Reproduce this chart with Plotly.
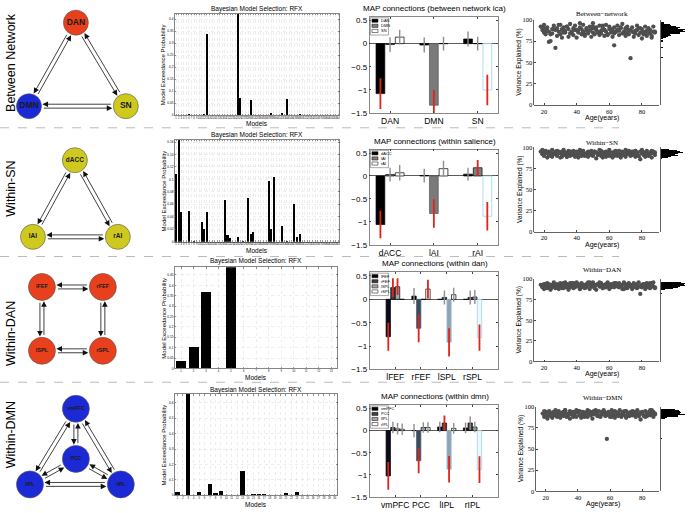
import math
import plotly.graph_objects as go

W, H = 688, 513
SANS = "Liberation Sans, Arial, sans-serif"
SERIF = "Liberation Serif, Times New Roman, serif"

# ======================= DATA =======================
row_labels = ["Between Network", "Within-SN", "Within-DAN", "Within-DMN"]

# --- network diagrams (node layout in diagram units) ---
net_names = [["DAN", "DMN", "SN"], ["dACC", "lAI", "rAI"],
             ["lFEF", "rFEF", "lSPL", "rSPL"], ["vmPFC", "PCC", "lIPL", "rIPL"]]
net_x = [[76, 29, 126], [75, 33, 118], [42, 103, 42, 103], [76, 76, 30, 121]]
net_y = [[19, 104, 104], [159, 237, 237], [288, 288, 353, 353], [412, 463, 489, 489]]
net_fill = [["#e8401c", "#1c2ad6", "#cfc91f"], ["#cfc91f"] * 3,
            ["#e8401c"] * 4, ["#1c2ad6"] * 4]
net_edges = [[(0, 1), (0, 2), (1, 2)], [(0, 1), (0, 2), (1, 2)],
             [(0, 1), (0, 2), (1, 3), (2, 3)],
             [(0, 1), (0, 2), (0, 3), (1, 2), (1, 3), (2, 3)]]

# --- Bayesian model selection: exceedance probabilities ---
bms1_prob = [0, 0, 0, 0, 0, 0.004, 0, 0, 0, 0,
             0, 0.006, 0.338, 0, 0, 0, 0, 0, 0, 0,
             0, 0, 0, 0, 0.423, 0.070, 0, 0, 0, 0.061,
             0, 0, 0, 0, 0, 0, 0, 0.009, 0, 0,
             0, 0.009, 0, 0.068, 0, 0, 0, 0, 0.003, 0,
             0, 0, 0, 0, 0, 0, 0, 0, 0, 0,
             0, 0, 0, 0]
bms2_prob = [0.109, 0.164, 0.048, 0, 0, 0.050, 0, 0.002, 0, 0,
             0.031, 0.021, 0.047, 0, 0, 0, 0, 0, 0, 0.067,
             0.011, 0.006, 0, 0, 0.008, 0, 0.001, 0, 0.071, 0.013,
             0.015, 0, 0, 0, 0, 0, 0.098, 0.020, 0.104, 0,
             0, 0.026, 0, 0.001, 0, 0, 0.060, 0.008, 0.013, 0,
             0, 0, 0, 0, 0, 0, 0, 0, 0, 0,
             0, 0, 0, 0]
bms3_prob = [0.037, 0.103, 0.370, 0, 0.487, 0, 0, 0.003, 0, 0, 0, 0, 0]
bms4_prob = [0.021, 0, 0.658, 0, 0.021, 0, 0.071, 0.012, 0.029, 0,
             0, 0, 0.156, 0, 0.008, 0.006, 0.010, 0, 0, 0,
             0.012, 0, 0.023, 0, 0.004, 0, 0, 0, 0, 0]
bms_probs = [bms1_prob, bms2_prob, bms3_prob, bms4_prob]
bms_yticks = [[0, 0.05, 0.1, 0.15, 0.2, 0.25, 0.3, 0.35, 0.4],
              [0, 0.02, 0.04, 0.06, 0.08, 0.1, 0.12, 0.14, 0.16],
              [0, 0.05, 0.1, 0.15, 0.2, 0.25, 0.3, 0.35, 0.4, 0.45],
              [0, 0.1, 0.2, 0.3, 0.4, 0.5, 0.6]]

# --- MAP connections: rows = target group, cols = source series ---
map_titles = ["MAP connections (between network ica)", "MAP connections (within salience)",
              "MAP connections (within dan)", "MAP connections (within dmn)"]
map_groups = [["DAN", "DMN", "SN"], ["dACC", "lAI", "rAI"],
              ["lFEF", "rFEF", "lSPL", "rSPL"], ["vmPFC", "PCC", "lIPL", "rIPL"]]
map1_vals = [[-1.08, -0.02, 0.14], [-0.03, -1.33, 0.00], [0.10, 0.00, -1.00]]
map1_errs = [[0.33, 0.16, 0.16], [0.16, 0.33, 0.15], [0.16, 0.15, 0.33]]
map2_vals = [[-1.06, 0.03, 0.07], [0.01, -0.82, 0.16], [0.04, 0.18, -0.88]]
map2_errs = [[0.30, 0.15, 0.17], [0.15, 0.31, 0.17], [0.14, 0.17, 0.31]]
map3_vals = [[-0.80, 0.25, 0.27, 0.00], [0.07, -0.62, 0.00, 0.22],
             [0.00, 0.04, -0.92, 0.10], [0.00, 0.04, 0.05, -0.82]]
map3_errs = [[0.30, 0.20, 0.18, 0.00], [0.17, 0.30, 0.00, 0.20],
             [0.00, 0.15, 0.30, 0.15], [0.00, 0.15, 0.15, 0.28]]
map4_vals = [[-1.02, 0.07, 0.04, 0.03], [0.00, -0.68, 0.07, 0.07],
             [0.08, 0.17, -0.87, 0.05], [0.06, 0.17, 0.08, -0.88]]
map4_errs = [[0.31, 0.13, 0.13, 0.13], [0.15, 0.28, 0.12, 0.12],
             [0.12, 0.17, 0.30, 0.12], [0.12, 0.15, 0.12, 0.30]]
map_vals = [map1_vals, map2_vals, map3_vals, map4_vals]
map_errs = [map1_errs, map2_errs, map3_errs, map4_errs]
# significant off-diagonal connections (group, series) -> red error bars
map_sig_extra = [[], [(2, 1)], [(0, 1), (0, 2), (1, 3)], [(2, 1)]]

# --- variance explained vs age (same participants in every row) ---
ages = [18, 19, 20, 20, 21, 22, 22, 23, 23, 24, 25, 25, 26, 27, 27,
        28, 28, 29, 30, 30, 31, 31, 32, 33, 33, 34, 35, 35, 36, 36,
        37, 38, 38, 39, 39, 40, 41, 41, 42, 43, 43, 44, 44, 45, 46,
        46, 47, 47, 48, 49, 49, 50, 50, 51, 52, 52, 53, 54, 54, 55,
        55, 56, 57, 57, 58, 58, 59, 60, 60, 61, 62, 62, 63, 63, 64,
        65, 65, 66, 66, 67, 68, 68, 69, 70, 70, 71, 71, 72, 73, 73,
        74, 74, 75, 76, 76, 77, 77, 78, 79, 79, 80, 80, 81, 82, 82,
        83, 83, 84, 85, 85, 86, 87, 87, 88, 19, 21, 24, 26, 29, 32,
        34, 37, 40, 42, 45, 48, 51, 53, 56, 59, 61, 64, 67, 69, 72,
        75, 78, 81, 84, 86, 20, 31, 44, 50, 57, 63, 70, 76, 83, 88]
var_between = [92, 88, 85, 90, 83, 87, 91, 74, 86, 75, 89, 84, 93, 67, 88,
               81, 90, 86, 94, 83, 88, 79, 91, 85, 87, 92, 80, 89, 84, 95,
               86, 82, 90, 88, 93, 79, 87, 85, 91, 83, 89, 86, 94, 81, 88,
               90, 84, 87, 92, 80, 89, 85, 96, 83, 88, 91, 86, 82, 93, 87,
               84, 90, 81, 88, 94, 86, 83, 89, 92, 85, 80, 87, 70, 91, 86,
               88, 93, 82, 87, 90, 84, 95, 86, 81, 89, 85, 92, 83, 55, 88,
               86, 91, 80, 87, 84, 93, 88, 82, 90, 85, 78, 89, 86, 92, 83,
               87, 81, 90, 84, 88, 79, 86, 92, 85, 91, 87, 83, 89, 94, 85,
               92, 84, 88, 96, 83, 87, 90, 85, 93, 82, 89, 86, 91, 84, 88,
               85, 90, 83, 87, 81, 94, 89, 86, 92, 88, 84, 90, 87, 83, 86]
var_sn = [95, 92, 94, 90, 96, 93, 88, 95, 91, 94, 97, 89, 93, 95, 92,
          90, 96, 93, 94, 88, 95, 92, 97, 91, 94, 89, 96, 93, 90, 95,
          94, 91, 96, 89, 93, 95, 92, 88, 97, 93, 90, 94, 96, 91, 93,
          92, 95, 89, 94, 96, 91, 93, 90, 95, 87, 94, 92, 97, 93, 90,
          96, 93, 91, 94, 89, 95, 92, 97, 90, 94, 93, 88, 95, 91, 93,
          94, 90, 96, 92, 88, 95, 93, 91, 97, 89, 94, 92, 96, 90, 93,
          91, 95, 93, 89, 96, 92, 94, 90, 95, 86, 93, 97, 91, 94, 89,
          93, 96, 90, 94, 92, 88, 95, 93, 91, 97, 94, 90, 92, 95, 93,
          89, 94, 92, 96, 90, 93, 95, 91, 88, 94, 92, 96, 90, 93, 95,
          92, 90, 94, 91, 96, 93, 89, 95, 92, 94, 90, 93, 96, 91, 94]
var_dan = [93, 90, 94, 88, 92, 95, 89, 91, 94, 87, 93, 90, 96, 92, 89,
           94, 91, 88, 95, 92, 90, 93, 89, 96, 91, 94, 87, 92, 95, 90,
           92, 95, 89, 93, 90, 96, 91, 94, 88, 92, 95, 90, 93, 89, 94,
           90, 93, 96, 88, 94, 91, 92, 95, 89, 93, 87, 94, 91, 96, 92,
           95, 89, 93, 91, 94, 90, 96, 92, 88, 94, 91, 93, 95, 90, 92,
           91, 94, 90, 95, 92, 88, 93, 96, 90, 94, 89, 92, 95, 91, 93,
           88, 93, 95, 90, 92, 94, 89, 96, 91, 82, 93, 90, 94, 88, 92,
           94, 90, 92, 95, 89, 93, 91, 96, 90, 92, 94, 89, 93, 91, 95,
           90, 95, 93, 88, 92, 96, 91, 94, 89, 93, 90, 95, 92, 88, 94,
           93, 91, 94, 90, 95, 92, 89, 93, 96, 91, 94, 90, 92, 95, 89]
var_dmn = [92, 88, 94, 90, 86, 93, 95, 89, 91, 87, 94, 90, 96, 92, 88,
           90, 95, 87, 93, 91, 89, 94, 96, 88, 92, 90, 95, 86, 93, 91,
           94, 89, 92, 96, 88, 93, 90, 95, 87, 91, 94, 89, 93, 90, 96,
           88, 92, 95, 90, 94, 86, 93, 91, 96, 89, 92, 95, 90, 88, 94,
           91, 95, 89, 93, 90, 62, 94, 88, 92, 96, 90, 93, 87, 95, 91,
           93, 89, 96, 91, 88, 94, 92, 90, 95, 87, 93, 91, 89, 94, 90,
           95, 90, 92, 88, 94, 91, 96, 89, 93, 85, 92, 94, 90, 88, 95,
           89, 93, 91, 96, 90, 92, 88, 94, 91, 95, 89, 93, 90, 92, 96,
           92, 88, 95, 90, 93, 91, 94, 89, 96, 92, 88, 93, 91, 95, 90,
           94, 91, 89, 93, 96, 90, 92, 88, 95, 91, 93, 89, 94, 90, 92]
var_series = [var_between, var_sn, var_dan, var_dmn]
scatter_titles = ["Between\u2212network", "Within\u2212SN", "Within\u2212DAN", "Within\u2212DMN"]

# ======================= LAYOUT BOXES (pixels) =======================
bms_box = [(175, 340, 10, 113), (175, 340, 138, 242), (175, 338, 268, 371), (175, 338, 397, 500)]
bms_title_y = [5, 133, 262, 393]
bms_models_y = [122, 251, 380, 509]
map_box = [(370, 499, 13, 111), (370, 499, 148, 245), (370, 499, 273, 372), (370, 499, 408, 502)]
map_title_y = [5, 140, 264, 399]
sc_box = [(535, 660, 16, 103), (535, 660, 146, 232), (535, 660, 280, 364), (537, 660, 410, 496)]
sc_title_y = [10, 141, 271, 401]
row_label_y = [59, 188, 335, 438]
sep_y = [126, 257, 385]

fig = go.Figure()
layout = dict(width=W, height=H, margin=dict(l=0, r=0, t=0, b=0),
              paper_bgcolor="white", plot_bgcolor="white", showlegend=False,
              font=dict(family=SANS, size=8, color="black"),
              barmode="overlay", bargap=0)
annotations = []
shapes = []


def names(n):
    s = "" if n == 1 else str(n)
    return "xaxis" + s, "yaxis" + s, "x" + s, "y" + s


def xd(a, b):
    return [a / W, b / W]


def yd(top, bot):
    return [1 - bot / H, 1 - top / H]


def txt(s, x, y, size, family=SANS, angle=0, color="black", xanchor="center"):
    annotations.append(dict(text=s, x=x / W, y=1 - y / H, xref="paper", yref="paper",
                            showarrow=False, textangle=angle, xanchor=xanchor, yanchor="middle",
                            font=dict(size=size, family=family, color=color)))


# ---------- column 1: network diagrams ----------
xa, ya, xr, yr = names(1)
layout[xa] = dict(domain=xd(0, 150), range=[0, 150], visible=False, fixedrange=True)
layout[ya] = dict(domain=[0, 1], range=[H, 0], visible=False, fixedrange=True)
node_size = [25, 25, 27, 27]
node_font = [8.5, 6.5, 5.5, 5]
for r in range(4):
    xs, ys = net_x[r], net_y[r]
    rad = node_size[r] / 2
    for (i, j) in net_edges[r]:
        for (a, b) in ((i, j), (j, i)):
            dx, dy = xs[b] - xs[a], ys[b] - ys[a]
            L = math.hypot(dx, dy)
            ux, uy = dx / L, dy / L
            px_, py_ = -uy, ux
            off = 2.0
            sx = xs[a] + ux * (rad + 1) + px_ * off
            sy = ys[a] + uy * (rad + 1) + py_ * off
            ex = xs[b] - ux * (rad + 1) + px_ * off
            ey = ys[b] - uy * (rad + 1) + py_ * off
            annotations.append(dict(x=ex, y=ey, ax=sx, ay=sy, xref=xr, yref=yr,
                                    axref=xr, ayref=yr, showarrow=True, text="",
                                    arrowhead=2, arrowsize=1.4, arrowwidth=0.8,
                                    arrowcolor="#111111", standoff=0, startstandoff=0))
    fig.add_trace(go.Scatter(
        x=xs, y=ys, mode="markers+text", text=["<b>%s</b>" % t for t in net_names[r]],
        textposition="middle center",
        textfont=dict(size=node_font[r], color="#1a1a1a", family=SANS),
        marker=dict(size=node_size[r], color=net_fill[r], line=dict(color="#555555", width=0.6)),
        xaxis=xr, yaxis=yr, hoverinfo="skip"))
    txt(row_labels[r], 11, row_label_y[r], 12.5, angle=-90)

# ---------- column 2: BMS bar charts ----------
for r in range(4):
    n = 2 + r
    xa, ya, xr, yr = names(n)
    x0, x1, t, b = bms_box[r]
    probs = bms_probs[r]
    models = list(range(1, len(probs) + 1))
    layout[xa] = dict(domain=xd(x0, x1), anchor=yr, range=[0.5, len(models) + 0.5],
                      tickvals=models, ticktext=[str(m) for m in models],
                      tickfont=dict(size=2.6), tickangle=0,
                      ticks="inside", ticklen=1.5, tickwidth=0.5, tickcolor="#333",
                      showline=True, linecolor="#333", linewidth=0.6, mirror="ticks",
                      showgrid=True, gridcolor="#dcdcdc", griddash="dot", gridwidth=0.5,
                      zeroline=False, fixedrange=True)
    layout[ya] = dict(domain=yd(t, b), anchor=xr, range=[0, max(probs)],
                      tickvals=bms_yticks[r], tickfont=dict(size=3.2),
                      ticks="inside", ticklen=1.5, tickwidth=0.5, tickcolor="#333",
                      showline=True, linecolor="#333", linewidth=0.6, mirror="ticks",
                      showgrid=True, gridcolor="#dcdcdc", griddash="dot", gridwidth=0.5,
                      zeroline=False, fixedrange=True)
    fig.add_trace(go.Bar(x=models, y=probs, width=0.8, marker=dict(color="black", line=dict(width=0)),
                         xaxis=xr, yaxis=yr, hoverinfo="skip"))
    txt("Bayesian Model Selection: RFX", (x0 + x1) / 2, bms_title_y[r], 6.5)
    txt("Models", (x0 + x1) / 2, bms_models_y[r], 6.5)
    txt("Model Exceedance Probability", 164, (t + b) / 2, 6, angle=-90)

# ---------- column 3: MAP connection bars ----------
for r in range(4):
    n = 6 + r
    xa, ya, xr, yr = names(n)
    x0, x1, t, b = map_box[r]
    groups = map_groups[r]
    ng = len(groups)
    vals, errs = map_vals[r], map_errs[r]
    if ng == 3:
        offs, bw, xrange_ = [-0.22, 0.0, 0.22], 0.2, [0.53, 3.47]
        base_cols = ["#000000", "#808080", "#ffffff"]
        self_cols = ["#000000", "#7a7a7a", "#ffffff"]
        self_line = ["#000000", "#555555", "#8ccfe8"]
    else:
        offs, bw, xrange_ = [-0.27, -0.09, 0.09, 0.27], 0.17, [0.0, 5.0]
        base_cols = ["#000000", "#404040", "#a6a6a6", "#ffffff"]
        self_cols = ["#0b0b1e", "#3c4c5a", "#8fa3b3", "#eef7fb"]
        self_line = ["#000000", "#4a6072", "#9fc4d8", "#8fd0ec"]
    for s in range(ng):
        xs = [g + 1 + offs[s] for g in range(ng)]
        ys = [vals[g][s] for g in range(ng)]
        cols = [self_cols[s] if g == s else base_cols[s] for g in range(ng)]
        lcols = [self_line[s] if g == s else "#000000" for g in range(ng)]
        fig.add_trace(go.Bar(x=xs, y=ys, width=bw,
                             marker=dict(color=cols, line=dict(color=lcols, width=0.7)),
                             xaxis=xr, yaxis=yr, hoverinfo="skip"))
    for color, flag, lw in (("#8f8f8f", False, 1.4), ("#e0231c", True, 1.8)):
        ex, ey = [], []
        for g in range(ng):
            for s in range(ng):
                sig = (g == s) or ((g, s) in map_sig_extra[r])
                if sig == flag and errs[g][s] > 0:
                    xx = g + 1 + offs[s]
                    ex += [xx, xx, None]
                    ey += [vals[g][s] - errs[g][s], vals[g][s] + errs[g][s], None]
        fig.add_trace(go.Scatter(x=ex, y=ey, mode="lines", line=dict(color=color, width=lw),
                                 xaxis=xr, yaxis=yr, hoverinfo="skip", cliponaxis=True))
    layout[xa] = dict(domain=xd(x0, x1), anchor=yr, range=xrange_,
                      tickvals=list(range(1, ng + 1)), ticktext=groups,
                      tickfont=dict(size=8.5), ticks="inside", ticklen=2, tickcolor="#444",
                      showline=True, linecolor="#555", linewidth=0.7, mirror="ticks",
                      showgrid=False, zeroline=False, fixedrange=True)
    layout[ya] = dict(domain=yd(t, b), anchor=xr, range=[-1.5, 0.58],
                      tickvals=[0.5, 0, -0.5, -1, -1.5], tickfont=dict(size=8),
                      ticks="inside", ticklen=2, tickcolor="#444",
                      showline=True, linecolor="#555", linewidth=0.7, mirror="ticks",
                      showgrid=False, zeroline=True, zerolinecolor="#333", zerolinewidth=0.8,
                      fixedrange=True)
    txt(map_titles[r], (x0 + x1) / 2 + 1, map_title_y[r], 8)
    # legend box (upper-left inside the axes)
    lx0, ly0 = x0 + 1, t + 1
    item_h = 5.2
    shapes.append(dict(type="rect", xref="paper", yref="paper",
                       x0=lx0 / W, x1=(lx0 + 18) / W,
                       y0=1 - (ly0 + ng * item_h + 2) / H, y1=1 - ly0 / H,
                       line=dict(color="#555", width=0.5), fillcolor="white"))
    for s in range(ng):
        cy = ly0 + 3 + s * item_h
        shapes.append(dict(type="rect", xref="paper", yref="paper",
                           x0=(lx0 + 1.5) / W, x1=(lx0 + 7.5) / W,
                           y0=1 - (cy + 1.6) / H, y1=1 - (cy - 1.6) / H,
                           line=dict(color="#000", width=0.5), fillcolor=base_cols[s]))
        txt(groups[s], lx0 + 8.5, cy, 4, xanchor="left")

# ---------- column 4: variance explained vs age + marginal histogram ----------
for r in range(4):
    n = 10 + r
    xa, ya, xr, yr = names(n)
    x0, x1, t, b = sc_box[r]
    layout[xa] = dict(domain=xd(x0, x1), anchor=yr, range=[14, 90.5], tickvals=[20, 40, 60, 80],
                      tickfont=dict(size=6.5, family=SERIF), ticks="inside", ticklen=2,
                      showline=True, linecolor="#222", linewidth=0.7, mirror=False,
                      showgrid=False, zeroline=False, fixedrange=True)
    layout[ya] = dict(domain=yd(t, b), anchor=xr, range=[0, 100], tickvals=[0, 25, 50, 75, 100],
                      tickfont=dict(size=6.5, family=SERIF), ticks="inside", ticklen=2,
                      showline=True, linecolor="#222", linewidth=0.7, mirror=False,
                      showgrid=False, zeroline=False, fixedrange=True)
    fig.add_trace(go.Scatter(x=ages, y=var_series[r], mode="markers",
                             marker=dict(size=4.3, color="#4f4f4f", line=dict(width=0)),
                             xaxis=xr, yaxis=yr, hoverinfo="skip"))
    txt(scatter_titles[r], (x0 + x1) / 2 + 5, sc_title_y[r], 7, family=SERIF)
    txt("Age(years)", (x0 + x1) / 2 + 5, b + 13, 7)
    txt("Variance Explained (%)", x0 - 15, (t + b) / 2, 6.5, angle=-90)

    hn = 14 + r
    hxa, hya, hxr, hyr = names(hn)
    layout[hxa] = dict(domain=xd(662, 687), anchor=hyr, visible=False, fixedrange=True,
                       rangemode="tozero")
    layout[hya] = dict(domain=yd(t, b), anchor=hxr, range=[0, 100], showticklabels=False,
                       ticks="", showline=True, linecolor="#222", linewidth=0.7,
                       showgrid=False, zeroline=False, fixedrange=True)
    fig.add_trace(go.Histogram(y=var_series[r], ybins=dict(start=0, end=100, size=1),
                               marker=dict(color="black", line=dict(width=0)),
                               xaxis=hxr, yaxis=hyr, hoverinfo="skip"))

# ---------- dashed row separators ----------
for yy in sep_y:
    shapes.append(dict(type="line", xref="paper", yref="paper", x0=0, x1=620 / W,
                       y0=1 - yy / H, y1=1 - yy / H,
                       line=dict(color="#a8a8a8", width=0.8, dash="dash")))

layout["annotations"] = annotations
layout["shapes"] = shapes
fig.update_layout(**layout)
fig.write_html("out.html", config={"displayModeBar": False, "staticPlot": True},
               post_script="document.body.style.margin='0px';document.body.style.padding='0px';")
